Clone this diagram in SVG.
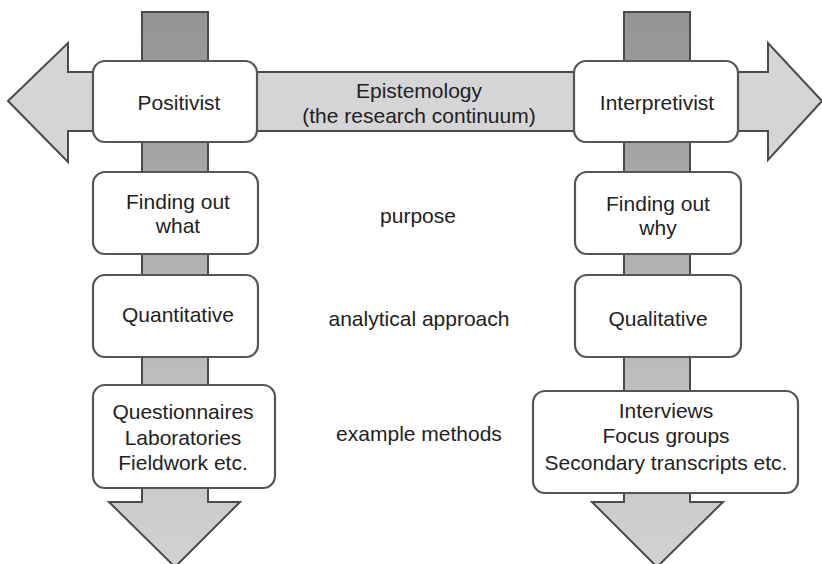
<svg xmlns="http://www.w3.org/2000/svg" width="822" height="564" viewBox="0 0 822 564">
  <defs>
    <linearGradient id="vgrad" x1="0" y1="12" x2="0" y2="564" gradientUnits="userSpaceOnUse">
      <stop offset="0" stop-color="#949496"/>
      <stop offset="0.5" stop-color="#b4b4b7"/>
      <stop offset="1" stop-color="#d2d2d4"/>
    </linearGradient>
    <style>
      .arrow { stroke: #4a4a4a; stroke-width: 2; stroke-linejoin: miter; }
      .harrow { fill: #d5d5d7; }
      .varrow { fill: url(#vgrad); }
      .box { fill: #ffffff; stroke: #555555; stroke-width: 2.2; }
      text { font-family: "Liberation Sans", Arial, sans-serif; font-size: 21px; fill: #222222; text-anchor: middle; }
    </style>
  </defs>

  <!-- connectors: the two vertical arrows and the horizontal double arrow -->
  <g id="connectors">
    <path class="arrow varrow" d="M142,12 H208 V502 H240 L175,567 L109,502 H142 Z"/>
    <path class="arrow varrow" d="M624,12 H690 V502 H723 L657,567 L592,502 H624 Z"/>
    <path class="arrow harrow" d="M8,101 L68,43 V72 H768 V43 L822,101 L768,160 V131 H68 V162 Z"/>
  </g>

  <g id="positivist">
    <rect class="box" x="93" y="61" width="164" height="81" rx="12"/>
    <text x="179" y="110">Positivist</text>
  </g>

  <g id="epistemology">
    <text x="419" y="98">Epistemology</text>
    <text x="419" y="123">(the research continuum)</text>
  </g>

  <g id="interpretivist">
    <rect class="box" x="574" y="61" width="164" height="81" rx="12"/>
    <text x="657" y="110">Interpretivist</text>
  </g>

  <g id="finding-what">
    <rect class="box" x="93" y="172" width="165" height="82" rx="12"/>
    <text x="178" y="209">Finding out</text>
    <text x="178" y="233">what</text>
  </g>

  <g id="purpose">
    <text x="418" y="223">purpose</text>
  </g>

  <g id="finding-why">
    <rect class="box" x="575" y="172" width="166" height="82" rx="12"/>
    <text x="658" y="211">Finding out</text>
    <text x="658" y="235">why</text>
  </g>

  <g id="quantitative">
    <rect class="box" x="93" y="275" width="165" height="82" rx="12"/>
    <text x="178" y="322">Quantitative</text>
  </g>

  <g id="analytical">
    <text x="419" y="326">analytical approach</text>
  </g>

  <g id="qualitative">
    <rect class="box" x="575" y="275" width="166" height="82" rx="12"/>
    <text x="658" y="326">Qualitative</text>
  </g>

  <g id="methods-left">
    <rect class="box" x="93" y="385" width="182" height="103" rx="12"/>
    <text x="183" y="419">Questionnaires</text>
    <text x="183" y="445">Laboratories</text>
    <text x="183" y="470">Fieldwork etc.</text>
  </g>

  <g id="example-methods">
    <text x="419" y="441">example methods</text>
  </g>

  <g id="methods-right">
    <rect class="box" x="533" y="391" width="265" height="102" rx="12"/>
    <text x="666" y="418">Interviews</text>
    <text x="666" y="443">Focus groups</text>
    <text x="666" y="470">Secondary transcripts etc.</text>
  </g>
</svg>
